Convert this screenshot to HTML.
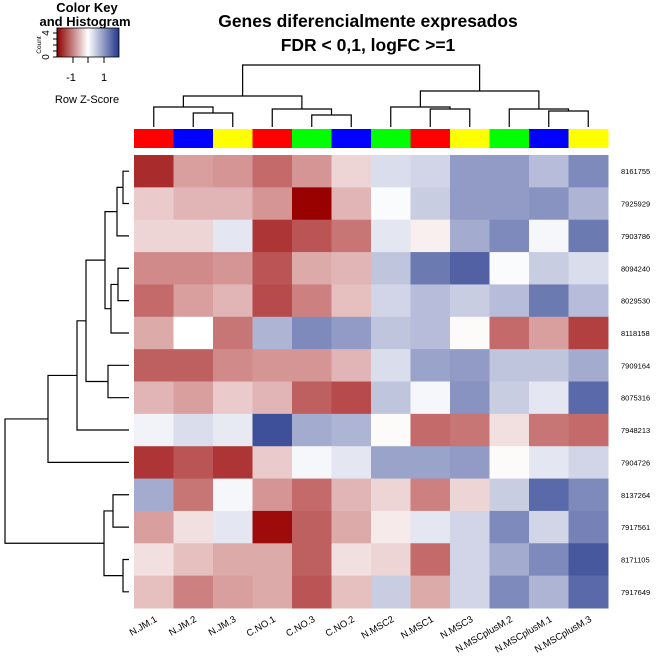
<!DOCTYPE html>
<html><head><meta charset="utf-8"><style>
html,body{margin:0;padding:0;background:#fff;}
svg{display:block;font-family:"Liberation Sans",Arial,sans-serif;}
</style></head><body>
<svg id="chart" width="672" height="672" viewBox="0 0 672 672" xmlns="http://www.w3.org/2000/svg">
<rect width="672" height="672" fill="#fff"/>
<g font-weight="bold" font-size="17.5" text-anchor="middle" fill="#000">
<text x="368" y="27">Genes diferencialmente expresados</text>
<text x="368" y="51">FDR &lt; 0,1, logFC &gt;=1</text>
</g>
<g id="key"></g>
<g id="coldend" stroke="#000" stroke-width="1.2" fill="none"></g>
<g id="rowdend" stroke="#000" stroke-width="1.2" fill="none"></g>
<g id="sidebar"></g>
<g id="cells"></g>
<g id="rowlabels" font-size="7.5" fill="#000"></g>
<g id="collabels" font-size="9.5" fill="#000"></g>
</svg>
<script>
const columns=["N.JM.1","N.JM.2","N.JM.3","C.NO.1","C.NO.3","C.NO.2","N.MSC2","N.MSC1","N.MSC3","N.MSCplusM.2","N.MSCplusM.1","N.MSCplusM.3"];
const sideColors=["#ff0000","#0000ff","#ffff00","#ff0000","#00ff00","#0000ff","#00ff00","#ff0000","#ffff00","#00ff00","#0000ff","#ffff00"];
const rowsLabels=["8161755","7925929","7903786","8094240","8029530","8118158","7909164","8075316","7948213","7904726","8137264","7917561","8171105","7917649"];
const z1=[-2.0,-0.9,-1.0,-1.4,-1.0,-0.4,0.4,0.5,1.2,1.2,0.8,1.4];
const z2=[-0.5,-0.7,-0.7,-1.0,-2.5,-0.7,0.05,0.6,1.2,1.2,1.3,0.9];
const z3=[-0.4,-0.4,0.3,-1.9,-1.6,-1.3,0.3,-0.15,1.0,1.4,0.1,1.6];
const z4=[-1.1,-1.1,-1.0,-1.6,-0.8,-0.7,0.7,1.6,1.9,0.05,0.6,0.4];
const z5=[-1.4,-0.9,-0.7,-1.7,-1.2,-0.6,0.5,0.8,0.6,0.8,1.6,0.8];
const z6=[-0.8,0,-1.3,0.9,1.4,1.2,0.7,0.8,-0.05,-1.4,-0.9,-1.8];
const z7=[-1.5,-1.5,-1.1,-1.0,-1.0,-0.7,0.4,1.1,1.2,0.7,0.7,1.0];
const z8=[-0.7,-0.9,-0.5,-0.7,-1.5,-1.7,0.7,0.1,1.3,0.6,0.3,1.8];
const z9=[0.15,0.4,0.25,2.1,1.0,0.9,-0.05,-1.4,-1.3,-0.3,-1.3,-1.4];
const z10=[-1.9,-1.6,-1.9,-0.5,0.1,0.3,1.1,1.1,1.2,-0.05,0.3,0.5];
const z11=[1.0,-1.3,0.1,-1.0,-1.4,-0.7,-0.4,-1.2,-0.4,0.6,1.8,1.4];
const z12=[-0.9,-0.3,0.3,-2.3,-1.5,-0.8,-0.2,0.3,0.5,1.4,0.5,1.5];
const z13=[-0.3,-0.6,-0.8,-0.8,-1.5,-0.3,-0.4,-1.4,0.5,1.0,1.4,2.0];
const z14=[-0.6,-1.2,-0.9,-0.8,-1.6,-0.6,0.6,-0.8,0.5,1.4,0.9,1.8];
const zRows=[z1,z2,z3,z4,z5,z6,z7,z8,z9,z10,z11,z12,z13,z14];
const colMerges=[[1,2,113],[0,"m0",107],[4,5,115],[3,"m2",109],["m1","m3",96],[7,8,109],[6,"m5",107],[10,11,111],[9,"m7",109],["m6","m8",91],["m4","m9",65]];
const rowMerges=[[0,1,123],["m0",2,117],[3,4,118],["m2",5,111],["m1","m3",105],[6,7,108],["m4","m5",86],["m6",8,77],["m7",9,48],[10,11,113],[12,13,123],["m9","m10",104],["m8","m11",5]];

const NS="http://www.w3.org/2000/svg";
const X0=134,X1=608,Y0=155,Y1=608;
const cw=(X1-X0)/columns.length, rh=(Y1-Y0)/zRows.length;
const xCol=i=>X0+cw*(i+0.5), yRow=i=>Y0+rh*(i+0.5);
function mk(tag,attrs,parent){const e=document.createElementNS(NS,tag);for(const k in attrs)e.setAttribute(k,attrs[k]);parent.appendChild(e);return e;}
function color(z){let t=Math.max(-1,Math.min(1,z/2.4));const w=[255,255,255],r=[153,0,0],b=[35,55,140];const c=t<0?r:b;t=Math.abs(t);
return "rgb("+w.map((v,k)=>Math.round(v+(c[k]-v)*t)).join(",")+")";}

const cells=document.getElementById("cells");
zRows.forEach((row,r)=>row.forEach((z,c)=>{
 const e=mk("rect",{x:X0+cw*c,y:Y0+rh*r,width:cw+0.5,height:rh+0.5,fill:color(z)},cells);
 
 
}));
const sb=document.getElementById("sidebar");
sideColors.forEach((col,c)=>{
 const e=mk("rect",{x:X0+cw*c,y:129,width:cw+0.5,height:19,fill:col},sb);
 
 
});
const rl=document.getElementById("rowlabels");
rowsLabels.forEach((l,r)=>{
 const e=mk("text",{x:621,y:yRow(r)+3},rl);e.textContent=l;
 
 
});
const cl=document.getElementById("collabels");
columns.forEach((l,c)=>{
 const x=xCol(c)+4,y=621;
 const e=mk("text",{x:x,y:y,"text-anchor":"end",transform:"rotate(-30 "+x+" "+y+")"},cl);e.textContent=l;
 
 
});
function drawDend(merges,pos,leafEnd,vertical,g){
 const P=[];
 const get=n=>typeof n==="number"?{p:pos(n),h:leafEnd}:P[+n.slice(1)];
 merges.forEach(([a,b,h])=>{
  const A=get(a),B=get(b);
  const d=vertical?`M${A.p},${A.h}V${h}H${B.p}V${B.h}`:`M${A.h},${A.p}H${h}V${B.p}H${B.h}`;
  const e=mk("path",{d:d},g);
  
  
  P.push({p:(A.p+B.p)/2,h:h});
 });
}
drawDend(colMerges,xCol,127,true,document.getElementById("coldend"));
drawDend(rowMerges,yRow,129,false,document.getElementById("rowdend"));
const key=document.getElementById("key");
key.innerHTML=`<defs><linearGradient id="kg" x1="0" x2="1"><stop offset="0" stop-color="#8b0000"/><stop offset="0.5" stop-color="#ffffff"/><stop offset="1" stop-color="#23368a"/></linearGradient><clipPath id="kc"><rect x="0" y="0" width="134" height="40"/></clipPath></defs>
<g clip-path="url(#kc)" font-weight="bold" font-size="13" text-anchor="middle"><text x="87" y="12">Color Key</text><text x="85" y="26">and Histogram</text></g>
<rect x="57" y="28" width="62" height="29" fill="url(#kg)" stroke="#000" stroke-width="0.8"/>
<path d="M57,28V57M53,57H57M53,51H57M53,45H57M53,39H57M53,33H57M73,57V63M88,57V63M104,57V63" stroke="#000" stroke-width="1" fill="none"/>
<text x="50" y="57" font-size="10" transform="rotate(-90 50 57)" text-anchor="middle" dy="-1">0</text>
<text x="50" y="33" font-size="10" transform="rotate(-90 50 33)" text-anchor="middle" dy="-1">4</text>
<text x="41" y="45" font-size="6.5" transform="rotate(-90 41 45)" text-anchor="middle">Count</text>
<text x="71" y="81" font-size="11" text-anchor="middle">-1</text>
<text x="104" y="81" font-size="11" text-anchor="middle">1</text>
<text x="87" y="103" font-size="11" text-anchor="middle">Row Z-Score</text>`;
</script>
</body></html>
